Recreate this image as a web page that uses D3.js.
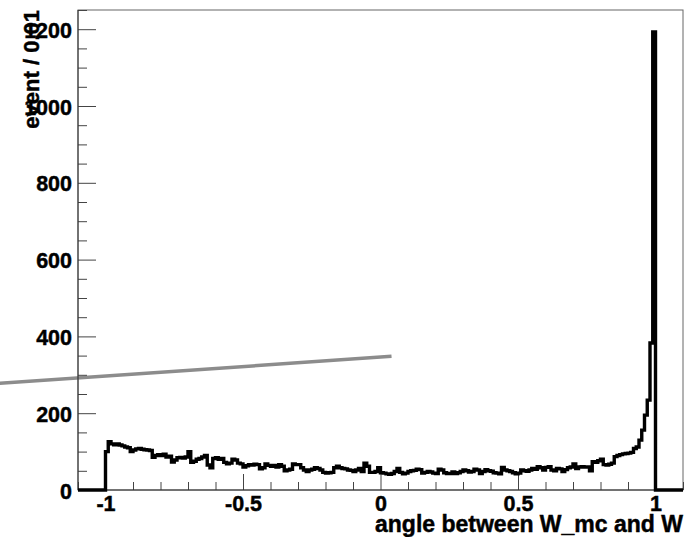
<!DOCTYPE html>
<html>
<head>
<meta charset="utf-8">
<script src="https://cdn.jsdelivr.net/npm/d3@7"></script>
<style>
  html, body { margin: 0; padding: 0; background: #fff; }
  svg { display: block; }
  text { font-family: "Liberation Sans", Arial, Helvetica, sans-serif; font-weight: bold; fill: #000; stroke: #000; stroke-width: 0.45px; }
</style>
</head>
<body>
<svg id="chart" width="695" height="537"></svg>
<script>
// ---- data ----
const binLow = -1;          // first bin lower edge
const binWidth = 0.01;      // bin width
const binValues = [
  100,126,120,118,120,117,115,112,110,100,
  104,107,108,106,105,104,103,85,90,92,
  90,93,86,88,73,78,84,85,83,86,
  100,72,75,80,82,86,90,65,58,82,
  84,80,82,72,68,70,80,78,70,68,
  60,63,66,65,67,66,55,58,68,64,
  62,64,60,66,62,50,52,54,68,66,
  66,58,52,48,52,54,58,56,52,46,
  44,45,46,58,62,58,56,55,52,51,
  48,52,56,48,70,62,46,46,48,58,
  45,44,42,41,43,48,56,46,42,44,
  48,50,51,54,53,44,46,48,47,44,
  43,54,52,45,43,43,47,43,45,48,
  52,50,47,48,54,52,43,48,53,50,
  49,45,44,42,59,52,50,48,45,42,
  44,52,50,49,52,56,54,61,58,52,
  59,61,52,50,56,55,48,53,58,60,
  68,56,60,61,60,60,50,74,72,76,
  80,66,65,67,70,87,90,92,94,95,
  96,98,108,112,130,156,195,234,383,1193
];
const xDomain = [-1.1, 1.1];
const yDomain = [0, 1250];
const xMajorTicks = [-1, -0.5, 0, 0.5, 1];
const xTickLabels = ["-1", "-0.5", "0", "0.5", "1"];
const yMajorTicks = [0, 200, 400, 600, 800, 1000, 1200];
const yTickLabels = ["0", "200", "400", "600", "800", "1000", "1200"];
const lineX = [-1.384, 0.04];
const lineY = [278, 348];
const xTitle = "angle between W_mc and W";
const yTitle = "event / 0.01";

// ---- layout ----
const frame = { left: 78, right: 683, top: 10, bottom: 490 };
const svg = d3.select("#chart");

const x = d3.scaleLinear().domain(xDomain).range([frame.left, frame.right]);
const y = d3.scaleLinear().domain(yDomain).range([frame.bottom, frame.top]);

// minor tick values
const xMinor = d3.range(-11, 12).map(k => k / 10).filter(v => !xMajorTicks.some(m => Math.abs(m - v) < 1e-9));
const yMinor = d3.range(0, 1251, 50).filter(v => v % 200 !== 0);

// grey line (drawn first, behind the frame)
svg.append("line")
  .attr("x1", x(lineX[0])).attr("y1", y(lineY[0]))
  .attr("x2", x(lineX[1])).attr("y2", y(lineY[1]))
  .attr("stroke", "#8c8c8c").attr("stroke-width", 3.5);

// frame
svg.append("rect")
  .attr("x", frame.left).attr("y", frame.top)
  .attr("width", frame.right - frame.left).attr("height", frame.bottom - frame.top)
  .attr("fill", "none").attr("stroke", "#666").attr("stroke-width", 1);

// x axis major
const xAxis = svg.append("g").attr("transform", `translate(0,${frame.bottom})`)
  .call(d3.axisBottom(x).tickValues(xMajorTicks)
    .tickFormat((d, i) => xTickLabels[i]).tickSizeInner(-16).tickSizeOuter(0).tickPadding(6));
xAxis.select(".domain").remove();
xAxis.selectAll("text").attr("font-size", 21.5);
xAxis.selectAll("line").attr("stroke", "#444");

const xAxisMinor = svg.append("g").attr("transform", `translate(0,${frame.bottom})`)
  .call(d3.axisBottom(x).tickValues(xMinor).tickFormat("").tickSizeInner(-8).tickSizeOuter(0));
xAxisMinor.select(".domain").remove();
xAxisMinor.selectAll("line").attr("stroke", "#444");

// y axis major
const yAxis = svg.append("g").attr("transform", `translate(${frame.left},0)`)
  .call(d3.axisLeft(y).tickValues(yMajorTicks)
    .tickFormat((d, i) => yTickLabels[i]).tickSizeInner(-18).tickSizeOuter(0).tickPadding(6));
yAxis.select(".domain").remove();
yAxis.selectAll("text").attr("font-size", 21.5).attr("dy", "0.38em");
yAxis.selectAll("line").attr("stroke", "#444");

const yAxisMinor = svg.append("g").attr("transform", `translate(${frame.left},0)`)
  .call(d3.axisLeft(y).tickValues(yMinor).tickFormat("").tickSizeInner(-9).tickSizeOuter(0));
yAxisMinor.select(".domain").remove();
yAxisMinor.selectAll("line").attr("stroke", "#444");

// left & bottom axis lines
svg.append("line").attr("x1", frame.left).attr("x2", frame.left)
  .attr("y1", frame.top).attr("y2", frame.bottom).attr("stroke", "#333");
svg.append("line").attr("x1", frame.left).attr("x2", frame.right)
  .attr("y1", frame.bottom).attr("y2", frame.bottom).attr("stroke", "#333");

// histogram step path
const pts = [[xDomain[0], 0], [binLow, 0]];
binValues.forEach((v, i) => {
  const lo = binLow + i * binWidth, hi = lo + binWidth;
  pts.push([lo, v], [hi, v]);
});
pts.push([binLow + binValues.length * binWidth, 0], [xDomain[1], 0]);
svg.append("path")
  .datum(pts)
  .attr("d", d3.line().x(d => x(d[0])).y(d => y(d[1])))
  .attr("fill", "none").attr("stroke", "#000").attr("stroke-width", 3.4)
  .attr("stroke-linejoin", "miter");

// titles
svg.append("text")
  .attr("x", frame.right).attr("y", 532)
  .attr("text-anchor", "end").attr("font-size", 23)
  .text(xTitle);

svg.append("text")
  .attr("transform", `translate(38.5,${frame.top}) rotate(-90)`)
  .attr("text-anchor", "end").attr("font-size", 22)
  .text(yTitle);
</script>
</body>
</html>
